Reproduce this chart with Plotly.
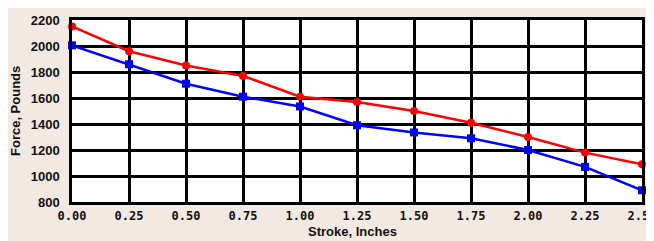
import plotly.graph_objects as go

stroke = [0.0, 0.25, 0.5, 0.75, 1.0, 1.25, 1.5, 1.75, 2.0, 2.25, 2.5]
red_force = [2150, 1960, 1850, 1770, 1610, 1570, 1500, 1410, 1300, 1180, 1090]
blue_force = [2005, 1860, 1710, 1610, 1535, 1390, 1335, 1290, 1200, 1070, 890]
x_tick_vals = [0.0, 0.25, 0.5, 0.75, 1.0, 1.25, 1.5, 1.75, 2.0, 2.25, 2.5]
x_tick_text = ["0.00", "0.25", "0.50", "0.75", "1.00", "1.25", "1.50", "1.75", "2.00", "2.25", "2.50"]
y_tick_vals = [800, 1000, 1200, 1400, 1600, 1800, 2000, 2200]
x_title = "Stroke, Inches"
y_title = "Force, Pounds"

fig = go.Figure()
fig.add_trace(go.Scatter(
    x=stroke, y=red_force, mode="lines+markers",
    line=dict(color="#ff0000", width=2.5),
    marker=dict(color="#ff0000", size=8, symbol="circle"),
    cliponaxis=False, showlegend=False))
fig.add_trace(go.Scatter(
    x=stroke, y=blue_force, mode="lines+markers",
    line=dict(color="#0000ff", width=2.5),
    marker=dict(color="#0000ff", size=8, symbol="square"),
    cliponaxis=False, showlegend=False))

# the page body adds an 8px offset, so margins are set 8px smaller on the left/top
fig.update_layout(
    width=654, height=241,
    margin=dict(l=64, r=20, t=5, b=47),
    paper_bgcolor="#f2e9e3",
    plot_bgcolor="#ffffff",
    font=dict(family="Liberation Sans, Arial, sans-serif", color="#111111"),
)
fig.update_xaxes(
    range=[0, 2.5], tickvals=x_tick_vals, ticktext=x_tick_text,
    showgrid=True, gridcolor="#000000", gridwidth=2.5,
    showline=True, linecolor="#000000", linewidth=2.5, mirror=True,
    zeroline=False, ticks="", ticklabelstandoff=1,
    tickfont=dict(family="DejaVu Sans Mono, monospace", size=12, color="#111111", weight="bold"),
)
fig.update_yaxes(
    range=[800, 2200], tickvals=y_tick_vals,
    showgrid=True, gridcolor="#000000", gridwidth=2.5,
    showline=True, linecolor="#000000", linewidth=2.5, mirror=True,
    zeroline=False, ticks="", ticklabelstandoff=7,
    tickfont=dict(size=13, color="#111111", weight="bold"),
)
fig.add_annotation(
    text="<b>" + y_title + "</b>", xref="paper", yref="paper", x=0, y=0.5,
    xanchor="center", yanchor="middle", xshift=-57, textangle=-90,
    showarrow=False, font=dict(size=13, color="#111111"))
fig.add_annotation(
    text="<b>" + x_title + "</b>", xref="paper", yref="paper", x=0.5, y=0,
    xanchor="center", yanchor="middle", xshift=-5, yshift=-29,
    showarrow=False, font=dict(size=13, color="#111111"))

fig.write_html("out.html")
